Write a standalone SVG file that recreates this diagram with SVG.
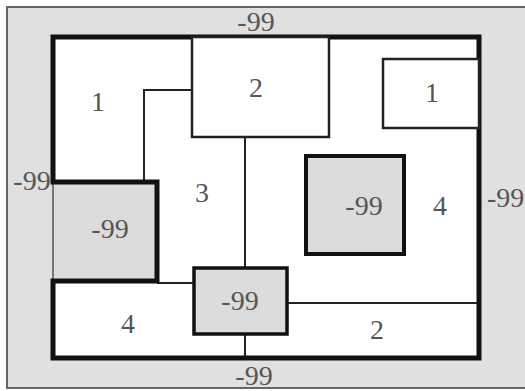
<svg xmlns="http://www.w3.org/2000/svg" width="525" height="391" viewBox="0 0 525 391">
<style>
.t{font-family:"Liberation Serif","Times New Roman",serif;font-size:28px;fill:#555;text-anchor:middle}
.thin{fill:none;stroke:#222;stroke-width:2}
.thick{fill:none;stroke:#111;stroke-width:5}
.gray{fill:#dcdcdc}
</style>
<rect x="7" y="7" width="525" height="381" fill="#e0e0e0" stroke="#666" stroke-width="2"/>
<g id="regions">
<rect x="53" y="37" width="426" height="321" fill="#fff"/>
<rect class="gray" x="53" y="182" width="104" height="99"/>
</g>
<g id="connectors">
<polyline class="thin" points="144,182 144,90 192,90"/>
<line class="thin" x1="245" y1="137" x2="245" y2="268"/>
<line class="thin" x1="245" y1="334" x2="245" y2="358"/>
<line class="thin" x1="157" y1="283" x2="194" y2="283"/>
<line class="thin" x1="287" y1="303" x2="479" y2="303"/>
<line x1="53" y1="182" x2="53" y2="281" stroke="#777" stroke-width="2"/>
<path class="thick" d="M53,182 V37 H479 V358 H53 V281 H157 V182 Z"/>
</g>
<g id="box2top"><rect x="192" y="37" width="137" height="100" fill="#fff" stroke="#222" stroke-width="2.5"/></g>
<g id="box1right"><rect x="383" y="59" width="96" height="69" fill="#fff" stroke="#222" stroke-width="2.5"/></g>
<g id="boxCenter"><rect class="gray" x="194" y="268" width="93" height="66" stroke="#111" stroke-width="3.5"/></g>
<g id="boxRight"><rect class="gray" x="306" y="156" width="98" height="98" stroke="#111" stroke-width="4"/></g>
<g id="labels">
<text class="t" x="256" y="31">-99</text>
<text class="t" x="32" y="190">-99</text>
<text class="t" x="487" y="207" style="text-anchor:start">-99</text>
<text class="t" x="254" y="385">-99</text>
<text class="t" x="98" y="111">1</text>
<text class="t" x="256" y="97">2</text>
<text class="t" x="432" y="102">1</text>
<text class="t" x="202" y="202">3</text>
<text class="t" x="110" y="238">-99</text>
<text class="t" x="364" y="215">-99</text>
<text class="t" x="440" y="215">4</text>
<text class="t" x="240" y="310">-99</text>
<text class="t" x="128" y="333">4</text>
<text class="t" x="377" y="339">2</text>
</g>
</svg>
